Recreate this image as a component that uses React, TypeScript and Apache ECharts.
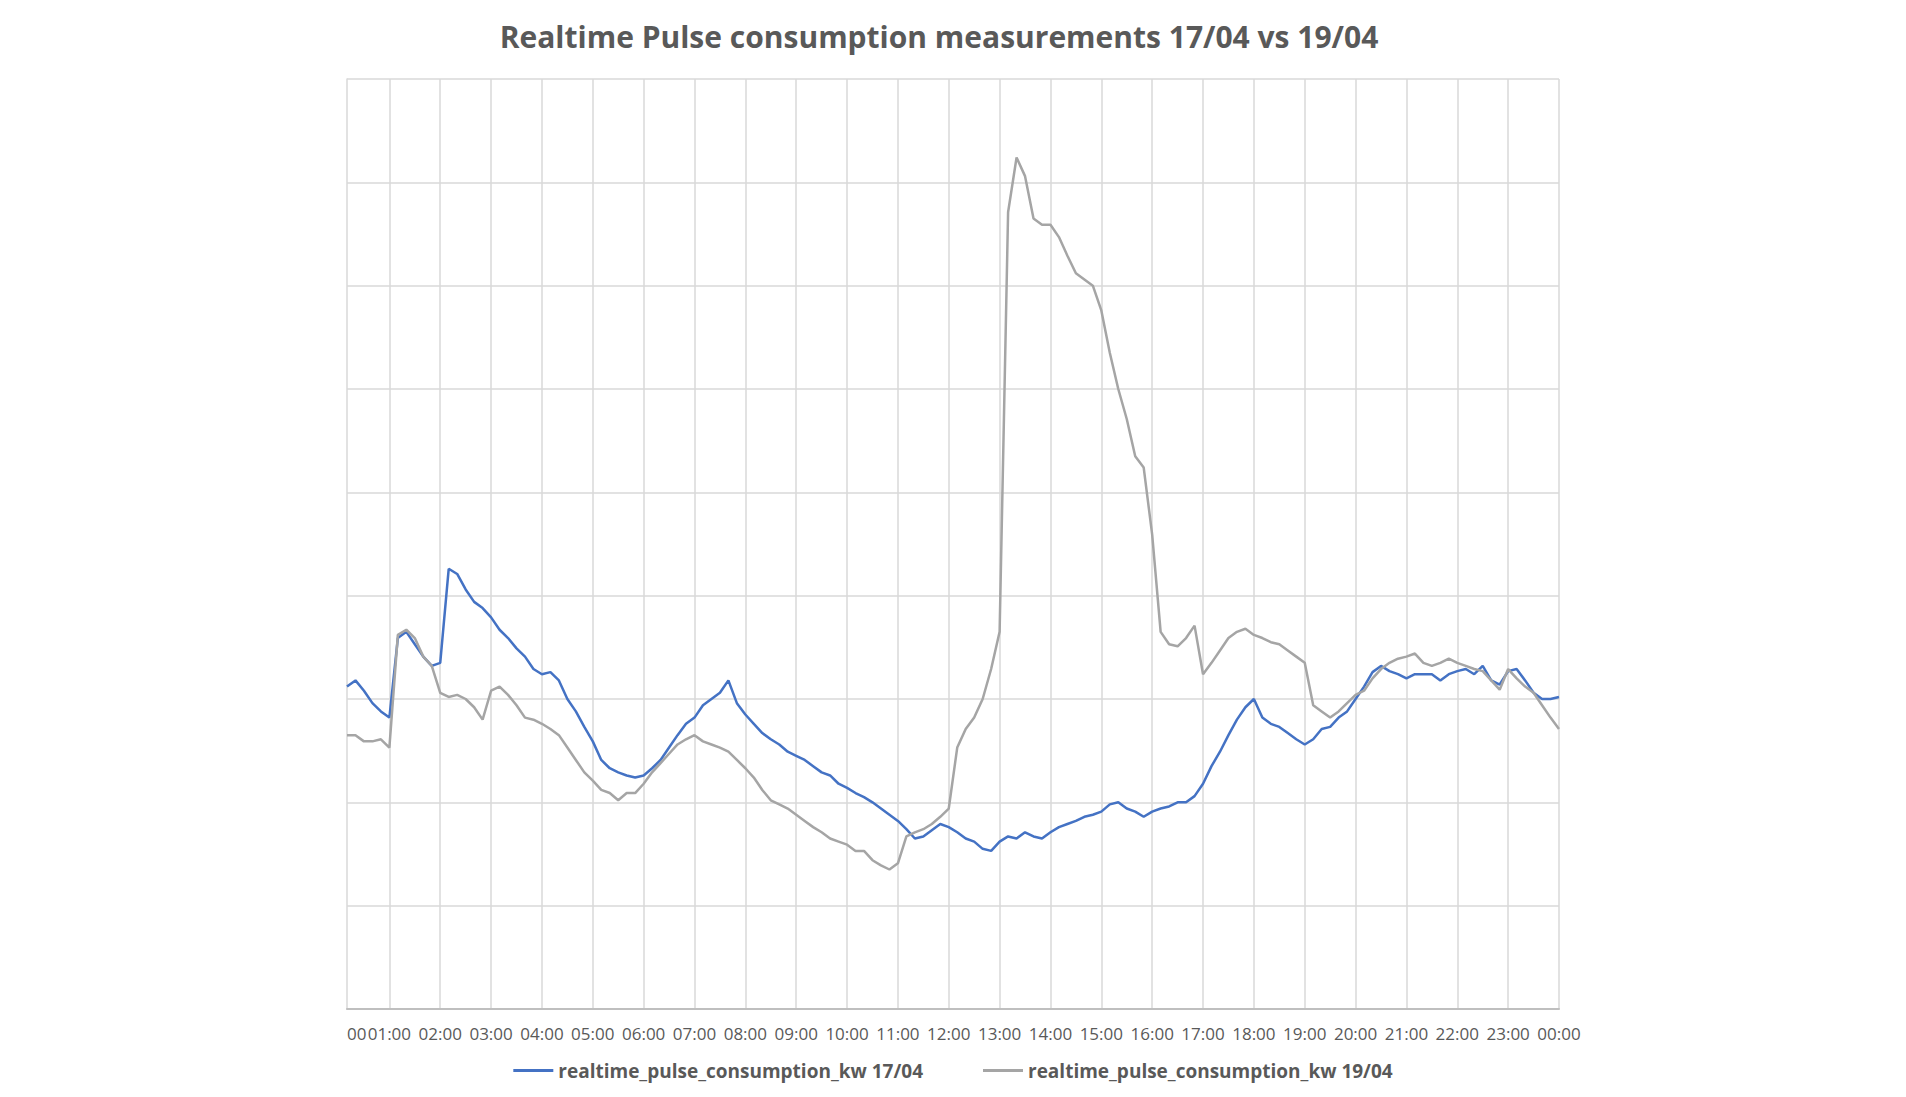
import { useEffect, useRef } from 'react'
import * as echarts from 'echarts'

// 10-minute samples from 00:10 to 24:00, one row per hour
const consumption1704 = [
  3.12, 3.18, 3.08, 2.96, 2.88, 2.82,
  3.59, 3.65, 3.53, 3.41, 3.32, 3.35,
  4.26, 4.21, 4.06, 3.94, 3.88, 3.79,
  3.67, 3.59, 3.49, 3.41, 3.29, 3.24,
  3.26, 3.18, 3.0, 2.88, 2.73, 2.59,
  2.41, 2.33, 2.29, 2.26, 2.24, 2.26,
  2.33, 2.41, 2.53, 2.65, 2.76, 2.82,
  2.94, 3.0, 3.06, 3.18, 2.96, 2.85,
  2.76, 2.67, 2.61, 2.56, 2.49, 2.45,
  2.41, 2.35, 2.29, 2.26, 2.18, 2.14,
  2.09, 2.05, 2.0, 1.94, 1.88, 1.82,
  1.74, 1.65, 1.67, 1.73, 1.79, 1.76,
  1.71, 1.65, 1.62, 1.55, 1.53, 1.62,
  1.67, 1.65, 1.71, 1.67, 1.65, 1.71,
  1.76, 1.79, 1.82, 1.86, 1.88, 1.91,
  1.98, 2.0, 1.94, 1.91, 1.86, 1.91,
  1.94, 1.96, 2.0, 2.0, 2.06, 2.18,
  2.35, 2.49, 2.65, 2.8, 2.92, 3.0,
  2.82, 2.76, 2.73, 2.67, 2.61, 2.56,
  2.61, 2.71, 2.73, 2.82, 2.88, 3.0,
  3.12, 3.26, 3.32, 3.27, 3.24, 3.2,
  3.24, 3.24, 3.24, 3.18, 3.24, 3.27,
  3.29, 3.24, 3.32, 3.18, 3.14, 3.27,
  3.29, 3.18, 3.06, 3.0, 3.0, 3.02,
]

const consumption1904 = [
  2.65, 2.65, 2.59, 2.59, 2.61, 2.53,
  3.62, 3.67, 3.59, 3.41, 3.32, 3.06,
  3.02, 3.04, 3.0, 2.92, 2.8, 3.08,
  3.12, 3.04, 2.94, 2.82, 2.8, 2.76,
  2.71, 2.65, 2.53, 2.41, 2.29, 2.21,
  2.12, 2.09, 2.02, 2.09, 2.09, 2.18,
  2.29, 2.38, 2.47, 2.56, 2.61, 2.65,
  2.59, 2.56, 2.53, 2.49, 2.41, 2.33,
  2.24, 2.12, 2.02, 1.98, 1.94, 1.88,
  1.82, 1.76, 1.71, 1.65, 1.62, 1.59,
  1.53, 1.53, 1.44, 1.39, 1.35, 1.41,
  1.67, 1.71, 1.74, 1.79, 1.86, 1.94,
  2.53, 2.71, 2.82, 3.0, 3.29, 3.65,
  7.71, 8.24, 8.06, 7.65, 7.59, 7.59,
  7.47, 7.29, 7.12, 7.06, 7.0, 6.76,
  6.35, 6.0, 5.71, 5.35, 5.24, 4.59,
  3.65, 3.53, 3.51, 3.59, 3.71, 3.24,
  3.35, 3.47, 3.59, 3.65, 3.68, 3.62,
  3.59, 3.55, 3.53, 3.47, 3.41, 3.35,
  2.94, 2.88, 2.82, 2.88, 2.96, 3.04,
  3.08, 3.2, 3.29, 3.35, 3.39, 3.41,
  3.44, 3.35, 3.32, 3.35, 3.39, 3.35,
  3.32, 3.29, 3.27, 3.18, 3.09, 3.29,
  3.2, 3.12, 3.06, 2.94, 2.82, 2.71,
]

const pad = (n: number) => String(n).padStart(2, '0')
const times = consumption1704.map((_, i) => {
  const m = (i + 1) * 10
  return `${pad(Math.floor(m / 60) % 24)}:${pad(m % 60)}`
})

const isHour = (_: number, v: string) => v.endsWith(':00')

export default function App() {
  const chartRef = useRef<HTMLDivElement>(null)

  useEffect(() => {
    const chart = echarts.init(chartRef.current, null, { renderer: 'svg' })
    const txt = '#595959'
    chart.setOption({
      animation: false,
      textStyle: { fontFamily: 'Open Sans' },
      title: {
        text: 'Realtime Pulse consumption measurements 17/04 vs 19/04',
        left: 926,
        textAlign: 'center',
        top: 8,
        textStyle: { fontSize: 30, fontWeight: 'bold', color: txt, fontFamily: 'Open Sans' },
      },
      grid: { left: 339, right: 339, top: 71, bottom: 80 },
      legend: {
        bottom: 4,
        left: 'center',
        itemWidth: 40,
        itemGap: 60,
        icon: 'rect',
        itemHeight: 3,
        textStyle: { fontSize: 19, color: txt, fontWeight: 'bold' },
        data: ['realtime_pulse_consumption_kw 17/04', 'realtime_pulse_consumption_kw 19/04'],
      },
      xAxis: {
        type: 'category',
        data: times,
        boundaryGap: false,
        axisLine: { lineStyle: { color: '#bfbfbf', width: 2 } },
        axisTick: { show: false },
        axisLabel: { interval: isHour, color: txt, fontSize: 17, margin: 16 },
        splitLine: { show: true, interval: isHour, lineStyle: { color: '#d9d9d9', width: 1.5 } },
      },
      yAxis: {
        type: 'value',
        min: 0,
        max: 9,
        interval: 1,
        axisLabel: { show: false },
        axisLine: { show: true, lineStyle: { color: '#d9d9d9', width: 1.5 } },
        splitLine: { lineStyle: { color: '#d9d9d9', width: 1.5 } },
      },
      graphic: [
        {
          type: 'text',
          left: 339,
          top: 1017,
          style: { text: '00', fill: txt, font: '17px "Open Sans"' },
        },
      ],
      series: [
        {
          name: 'realtime_pulse_consumption_kw 17/04',
          type: 'line',
          data: consumption1704,
          showSymbol: false,
          lineStyle: { color: '#4472C4', width: 2.5 },
          itemStyle: { color: '#4472C4' },
        },
        {
          name: 'realtime_pulse_consumption_kw 19/04',
          type: 'line',
          data: consumption1904,
          showSymbol: false,
          lineStyle: { color: '#A5A5A5', width: 2.5 },
          itemStyle: { color: '#A5A5A5' },
        },
      ],
    })
    return () => chart.dispose()
  }, [])

  return <div ref={chartRef} style={{ width: 1890, height: 1081 }} />
}
